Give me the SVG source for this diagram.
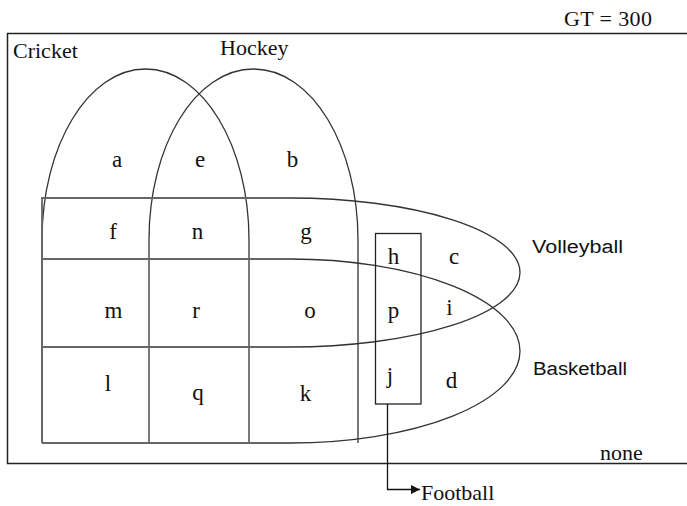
<svg xmlns="http://www.w3.org/2000/svg" width="687" height="506" viewBox="0 0 687 506">
<defs>
<style>
.ln{fill:none;stroke:#333;stroke-width:1.3}
.hz{fill:none;stroke:#666;stroke-width:1.8}
.sf{font-family:"Liberation Serif","Times New Roman",serif;font-size:22px;fill:#111}
.cl{font-family:"Liberation Serif","Times New Roman",serif;font-size:23px;fill:#111;text-anchor:middle}
.ss{font-family:"Liberation Sans",Arial,sans-serif;font-size:18px;fill:#111}
</style>
<marker id="ah" viewBox="0 0 10 10" refX="10" refY="5" markerWidth="12" markerHeight="9" markerUnits="userSpaceOnUse" orient="auto">
<path d="M0,0 L10,5 L0,10 z" fill="#111"/>
</marker>
</defs>
<rect width="687" height="506" fill="#fff"/>
<g id="universe">
<path d="M690,33.5 H7.5 V463.5 H690" fill="none" stroke="#222" stroke-width="1.5"/>
<text class="sf" x="564" y="26" textLength="88">GT = 300</text>
<text class="sf" x="600" y="460">none</text>
</g>
<g id="cricket">
<path class="ln" d="M42,443 L42,240 C42,146 88,69 145.5,69 C203,69 249,146 249,240 L249,443"/>
<text class="sf" x="13" y="58">Cricket</text>
</g>
<g id="hockey">
<path class="ln" d="M149,443 L149,240 C149,146 195,69 253.5,69 C312,69 358,146 358,240 L358,443"/>
<text class="sf" x="220" y="55">Hockey</text>
</g>
<g id="volleyball">
<path class="hz" d="M42,443 V198 H290"/>
<path class="ln" d="M290,198 A230,74.5 0 0 1 290,347"/>
<path class="hz" d="M290,347 H42"/>
<text class="ss" x="532" y="253" textLength="91" lengthAdjust="spacingAndGlyphs">Volleyball</text>
</g>
<g id="basketball">
<path class="hz" d="M42,259 H290"/>
<path class="ln" d="M290,259 A230,92 0 0 1 290,443"/>
<path class="hz" d="M290,443 H42"/>
<text class="ss" x="533" y="375" textLength="94" lengthAdjust="spacingAndGlyphs">Basketball</text>
</g>
<g id="football">
<rect x="375.5" y="233.5" width="45.5" height="170.5" fill="none" stroke="#222" stroke-width="1.3"/>
<text class="sf" x="421" y="500">Football</text>
</g>
<g id="regions">
<text class="cl" x="117" y="167">a</text>
<text class="cl" x="200" y="167">e</text>
<text class="cl" x="292.5" y="167">b</text>
<text class="cl" x="113" y="239">f</text>
<text class="cl" x="197.5" y="239">n</text>
<text class="cl" x="306" y="239">g</text>
<text class="cl" x="113.5" y="318">m</text>
<text class="cl" x="196" y="318">r</text>
<text class="cl" x="310" y="318">o</text>
<text class="cl" x="108" y="391">l</text>
<text class="cl" x="198" y="400">q</text>
<text class="cl" x="305.5" y="401">k</text>
<text class="cl" x="393.5" y="264">h</text>
<text class="cl" x="454" y="264">c</text>
<text class="cl" x="393.5" y="318">p</text>
<text class="cl" x="449.5" y="315">i</text>
<text class="cl" x="390" y="383">j</text>
<text class="cl" x="451.5" y="388">d</text>
</g>
<g id="connectors">
<path d="M387.5,404 V489.5 H420" fill="none" stroke="#111" stroke-width="1.3" marker-end="url(#ah)"/>
</g>
</svg>
